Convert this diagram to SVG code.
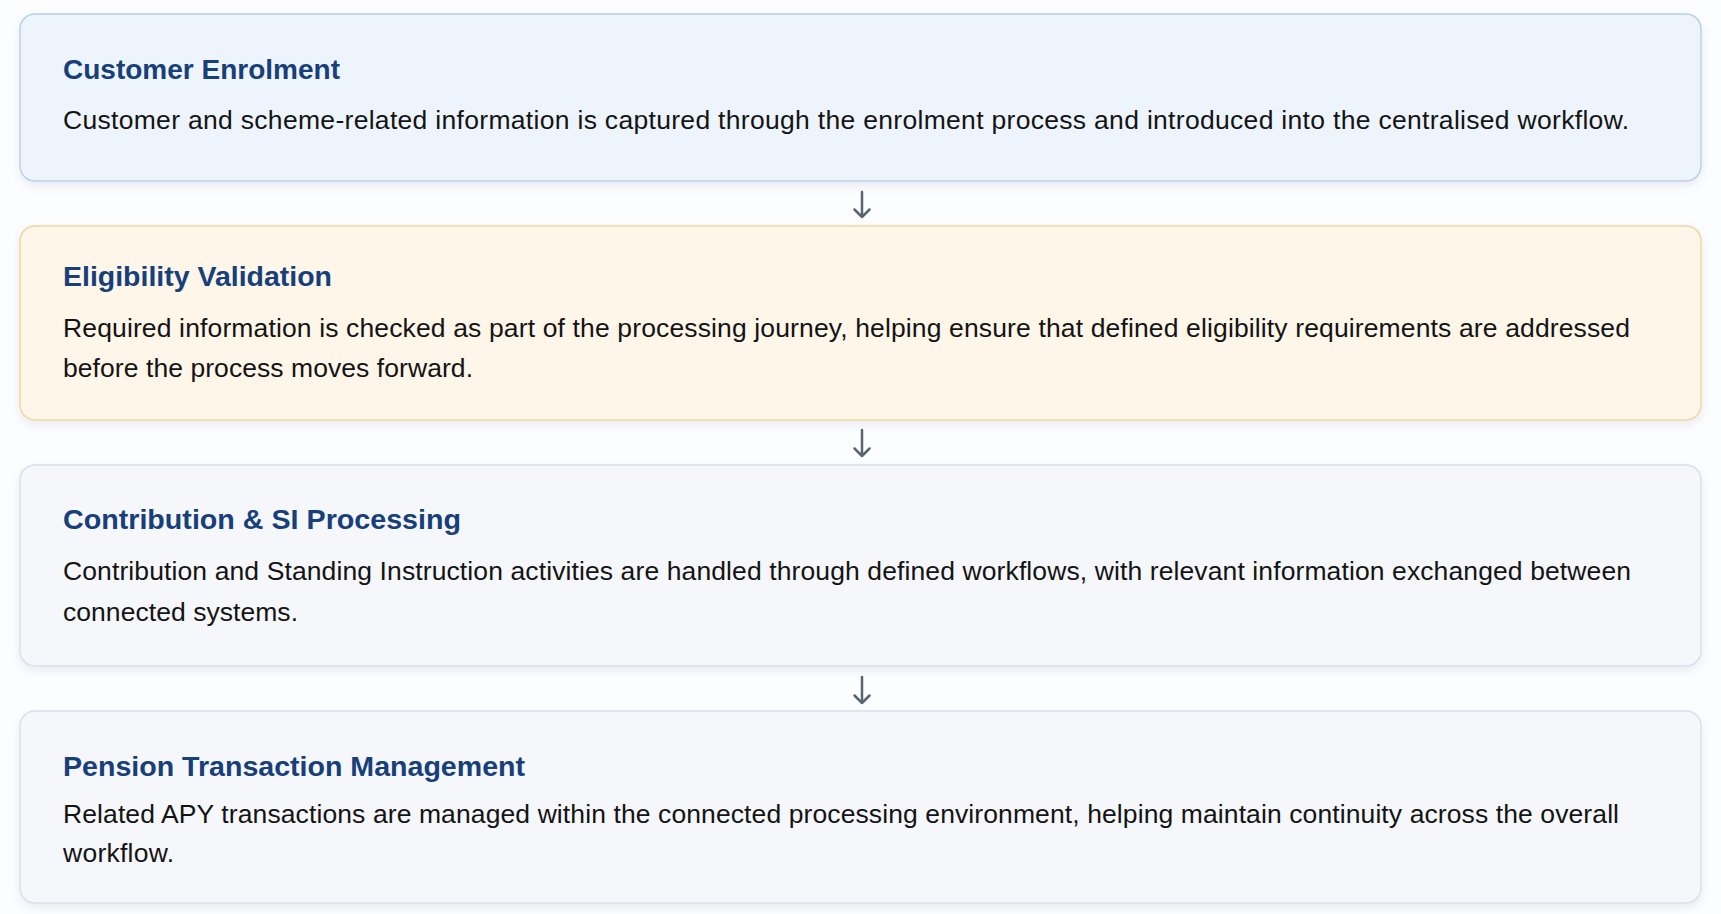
<svg xmlns="http://www.w3.org/2000/svg" width="1721" height="914" viewBox="0 0 1721 914">
<defs>
<filter id="sh" x="-5%" y="-20%" width="110%" height="150%">
<feDropShadow dx="0" dy="4" stdDeviation="5" flood-color="#1e2a44" flood-opacity="0.07"/>
</filter>
</defs>
<style>
.box{stroke-width:1.5;filter:url(#sh)}
.blue{fill:#eef4fc;stroke:#bad0ea}
.amber{fill:#fdf6e9;stroke:#f0d6a4}
.grey{fill:#f5f7fa;stroke:#d9e0ea}
.title{font-family:"Liberation Sans",Arial,sans-serif;font-weight:bold;font-size:28.5px;fill:#173f7a}
.body{font-family:"Liberation Sans",Arial,sans-serif;font-size:26.5px;fill:#141414}
.arrow{stroke:#5b6473;stroke-width:2.5;fill:none;stroke-linecap:round;stroke-linejoin:round}
</style>
<rect width="1721" height="914" fill="#fcfdfe"/>
<g id="node-customer-enrolment">
<rect class="box blue" x="20" y="14" width="1681" height="167" rx="15"/>
<text class="title" x="63" y="79" textLength="277" lengthAdjust="spacingAndGlyphs">Customer Enrolment</text>
<text class="body" x="63" y="129" textLength="1566" lengthAdjust="spacing">Customer and scheme-related information is captured through the enrolment process and introduced into the centralised workflow.</text>
</g>
<g id="node-eligibility-validation">
<rect class="box amber" x="20" y="226" width="1681" height="194" rx="15"/>
<text class="title" x="63" y="286" textLength="269" lengthAdjust="spacingAndGlyphs">Eligibility Validation</text>
<text class="body" x="63" y="337" textLength="1567" lengthAdjust="spacing">Required information is checked as part of the processing journey, helping ensure that defined eligibility requirements are addressed</text>
<text class="body" x="63" y="377" textLength="410" lengthAdjust="spacing">before the process moves forward.</text>
</g>
<g id="node-contribution-si">
<rect class="box grey" x="20" y="465" width="1681" height="201" rx="15"/>
<text class="title" x="63" y="529" textLength="398" lengthAdjust="spacingAndGlyphs">Contribution &amp; SI Processing</text>
<text class="body" x="63" y="580" textLength="1568" lengthAdjust="spacing">Contribution and Standing Instruction activities are handled through defined workflows, with relevant information exchanged between</text>
<text class="body" x="63" y="621" textLength="235" lengthAdjust="spacing">connected systems.</text>
</g>
<g id="node-pension-transaction">
<rect class="box grey" x="20" y="711" width="1681" height="192" rx="15"/>
<text class="title" x="63" y="776" textLength="462" lengthAdjust="spacingAndGlyphs">Pension Transaction Management</text>
<text class="body" x="63" y="823" textLength="1556" lengthAdjust="spacing">Related APY transactions are managed within the connected processing environment, helping maintain continuity across the overall</text>
<text class="body" x="63" y="862" textLength="111" lengthAdjust="spacing">workflow.</text>
</g>
<g id="connectors">
<path class="arrow" d="M862 192 V217 M854.5 209.5 L862 217 L869.5 209.5"/>
<path class="arrow" d="M862 430 V456 M854.5 448.5 L862 456 L869.5 448.5"/>
<path class="arrow" d="M862 677 V703 M854.5 695.5 L862 703 L869.5 695.5"/>
</g>
</svg>
